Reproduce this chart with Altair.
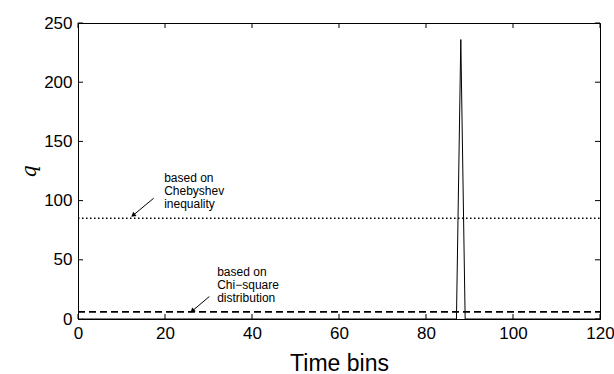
import altair as alt
import pandas as pd

# ---- data ----
bins = [1, 87, 88, 89, 120]
q_vals = [0, 0, 236, 0, 0]

cheb_level = 85
chi_level = 6
thr_x = [0, 120]

x_ticks = [0, 20, 40, 60, 80, 100, 120]
y_ticks = [0, 50, 100, 150, 200, 250]

cheb_text = ["based on", "Chebyshev", "inequality"]
cheb_text_x = [19.8, 19.8, 19.8]
cheb_text_y = [119.5, 108.5, 97.5]
cheb_arrow_x = [17.4, 12.8]
cheb_arrow_y = [102.0, 88.0]

chi_text = ["based on", "Chi\u2212square", "distribution"]
chi_text_x = [32.0, 32.0, 32.0]
chi_text_y = [39.5, 28.8, 18.1]
chi_arrow_x = [30.2, 26.4]
chi_arrow_y = [19.0, 7.2]

FONT = "Liberation Sans"
W, H = 522, 296

xs = alt.Scale(domain=[0, 120], nice=False, zero=False)
ys = alt.Scale(domain=[0, 250], nice=False, zero=False)

series = pd.DataFrame({"x": bins, "q": q_vals})
base_line = alt.Chart(series).mark_line(color="black", strokeWidth=1).encode(
    x=alt.X("x:Q", scale=xs,
            axis=alt.Axis(values=x_ticks, title="Time bins", ticks=False,
                          labelPadding=6, labelFontSize=17, labelFont=FONT,
                          labelColor="black", labelFlush=False,
                          titleFont=FONT, titleFontSize=23,
                          titleFontWeight="normal", titleColor="black",
                          titlePadding=11, domainColor="black", grid=False)),
    y=alt.Y("q:Q", scale=ys,
            axis=alt.Axis(values=y_ticks, title="q", ticks=False,
                          labelPadding=6, labelFontSize=17, labelFont=FONT,
                          labelColor="black", labelFlush=False,
                          titleFont="DejaVu Serif",
                          titleFontStyle="italic", titleFontSize=20,
                          titleFontWeight="normal", titleColor="black",
                          titlePadding=4, domainColor="black", grid=False)),
)

cheb_df = pd.DataFrame({"x": thr_x, "q": [cheb_level] * 2})
cheb_line = alt.Chart(cheb_df).mark_line(color="black", strokeWidth=1.5,
                                         strokeDash=[1.5, 2.5]).encode(
    x=alt.X("x:Q", scale=xs), y=alt.Y("q:Q", scale=ys))

chi_df = pd.DataFrame({"x": thr_x, "q": [chi_level] * 2})
chi_line = alt.Chart(chi_df).mark_line(color="black", strokeWidth=1.8,
                                       strokeDash=[7, 4]).encode(
    x=alt.X("x:Q", scale=xs), y=alt.Y("q:Q", scale=ys))

txt_df = pd.DataFrame({
    "x": cheb_text_x + chi_text_x,
    "q": cheb_text_y + chi_text_y,
    "t": cheb_text + chi_text,
})
texts = alt.Chart(txt_df).mark_text(align="left", baseline="middle",
                                    font=FONT, fontSize=12, color="black").encode(
    x=alt.X("x:Q", scale=xs), y=alt.Y("q:Q", scale=ys), text="t:N")

arr_df = pd.DataFrame({
    "x": cheb_arrow_x + chi_arrow_x,
    "q": cheb_arrow_y + chi_arrow_y,
    "g": ["c", "c", "s", "s"],
})
arrows = alt.Chart(arr_df).mark_line(color="black", strokeWidth=1).encode(
    x=alt.X("x:Q", scale=xs), y=alt.Y("q:Q", scale=ys), detail="g:N")

head_df = pd.DataFrame({
    "x": [cheb_arrow_x[1], chi_arrow_x[1]],
    "q": [cheb_arrow_y[1], chi_arrow_y[1]],
})
heads_c = alt.Chart(head_df.iloc[[0]]).mark_point(
    shape="triangle", filled=True, color="black", size=28, angle=232, opacity=1).encode(
    x=alt.X("x:Q", scale=xs), y=alt.Y("q:Q", scale=ys))
heads_s = alt.Chart(head_df.iloc[[1]]).mark_point(
    shape="triangle", filled=True, color="black", size=28, angle=227, opacity=1).encode(
    x=alt.X("x:Q", scale=xs), y=alt.Y("q:Q", scale=ys))

# inward ticks on all four sides
xt = pd.DataFrame({"x": x_ticks})
yt = pd.DataFrame({"q": y_ticks})
tick_b = alt.Chart(xt).mark_tick(orient="vertical", size=5, thickness=1,
                                 color="black", yOffset=-2.5, opacity=1).encode(
    x=alt.X("x:Q", scale=xs), y=alt.datum(0, scale=ys))
tick_t = alt.Chart(xt).mark_tick(orient="vertical", size=5, thickness=1,
                                 color="black", yOffset=2.5, opacity=1).encode(
    x=alt.X("x:Q", scale=xs), y=alt.datum(250, scale=ys))
tick_l = alt.Chart(yt).mark_tick(orient="horizontal", size=5, thickness=1,
                                 color="black", xOffset=2.5, opacity=1).encode(
    y=alt.Y("q:Q", scale=ys), x=alt.datum(0, scale=xs))
tick_r = alt.Chart(yt).mark_tick(orient="horizontal", size=5, thickness=1,
                                 color="black", xOffset=-2.5, opacity=1).encode(
    y=alt.Y("q:Q", scale=ys), x=alt.datum(120, scale=xs))

chart = alt.layer(
    base_line, cheb_line, chi_line, texts, arrows, heads_c, heads_s,
    tick_b, tick_t, tick_l, tick_r,
).properties(
    width=W, height=H,
    padding={"left": 78, "top": 23, "right": 14, "bottom": 55},
    autosize=alt.AutoSizeParams(type="none"),
    background="white",
).configure_view(stroke="black", strokeWidth=1)

chart.save("out.html", embed_options={"renderer": "svg", "actions": False})
